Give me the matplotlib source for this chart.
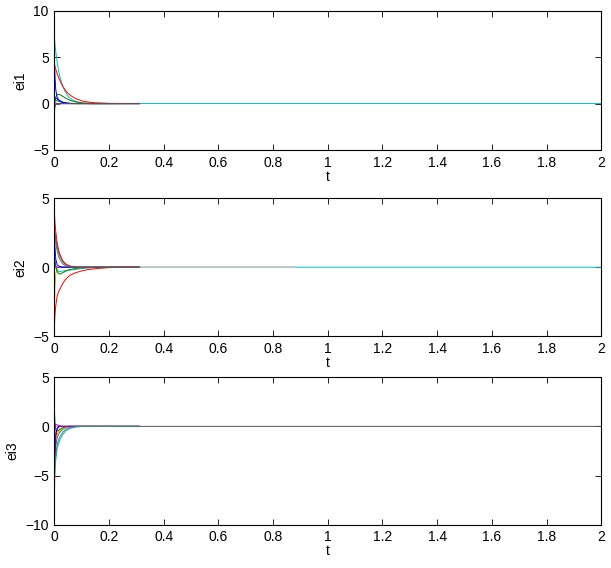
import numpy as np
import matplotlib.pyplot as plt

plt.rcParams['font.family'] = ['Liberation Sans', 'DejaVu Sans']
plt.rcParams['font.size'] = 10

# tiempos de muestreo
t = [0, 0.002, 0.005, 0.01, 0.015, 0.02, 0.03, 0.04, 0.05, 0.06, 0.08, 0.1, 0.12, 0.15, 0.2, 0.25, 0.31]
t_long = t + [2.0]

# colores tipo MATLAB
C = {'b': (0, 0, 1), 'g': (0, 0.5, 0), 'r': (1, 0, 0), 'c': (0, 0.75, 0.75),
     'm': (0.75, 0, 0.75), 'y': (0.75, 0.75, 0), 'k': (0.35, 0.35, 0.35),
     'gr': (0.78, 0.78, 0.78), 'tl': (0.3, 0.5, 0.5)}

# ---- ei1 ----
ei1_c = [7.1, 6.5, 5.6, 4.5, 3.6, 2.9, 1.9, 1.25, 0.8, 0.5, 0.2, 0.05, -0.02, -0.05, -0.03, 0, 0, 0]
ei1_r = [4.2, 4.0, 3.7, 3.25, 2.85, 2.5, 1.9, 1.45, 1.1, 0.85, 0.5, 0.3, 0.18, 0.08, 0.02, 0, 0]
ei1_b = [5.0, 3.0, 1.5, 0.7, 0.45, 0.3, 0.15, 0.08, 0.04, 0.02, 0, 0, 0, 0, 0, 0, 0]
ei1_g = [0.1, 0.4, 0.7, 0.95, 1.0, 0.95, 0.8, 0.6, 0.45, 0.32, 0.17, 0.08, 0.04, 0.01, 0, 0, 0]
ei1_b2 = [0, 0.3, 0.6, 0.5, 0.4, 0.3, 0.15, 0.08, 0.03, 0, 0, 0, 0, 0, 0, 0, 0]
ei1_g2 = [0.3, 0.35, 0.35, 0.3, 0.25, 0.2, 0.12, 0.06, 0.03, 0, 0, 0, 0, 0, 0, 0, 0]
ei1_k = [-1.0, -0.4, -0.1, 0, 0, 0, 0, 0, 0, 0, 0, 0, 0, 0, 0, 0, 0]
ei1_m = [0.2, 0.1, 0.05, 0, 0, 0, 0, 0, 0, 0, 0, 0, 0, 0, 0, 0, 0]
ei1_y = [-0.4, -0.2, 0, 0, 0, 0, 0, 0, 0, 0, 0, 0, 0, 0, 0, 0, 0]
ei1_gr = [-0.3, -0.1, 0, 0, 0, 0, 0, 0, 0, 0, 0, 0, 0, 0, 0, 0, 0]

# ---- ei2 ----
ei2_c = [0.8, 0.5, 0.1, -0.2, -0.3, -0.3, -0.28, -0.25, -0.22, -0.2, -0.15, -0.1, -0.06, -0.02, 0, 0, 0, 0]
ei2_rp = [4.0, 3.3, 2.6, 1.8, 1.3, 0.95, 0.5, 0.27, 0.15, 0.08, 0.03, 0.01, 0, 0, 0, 0, 0]
ei2_rn = [-4.3, -3.5, -2.8, -2.1, -1.8, -1.6, -1.2, -0.9, -0.7, -0.55, -0.38, -0.27, -0.18, -0.1, -0.03, 0, 0]
ei2_k = [2.8, 2.5, 2.1, 1.5, 1.1, 0.8, 0.4, 0.2, 0.1, 0.05, 0, 0, 0, 0, 0, 0, 0]
ei2_tl = [2.5, 2.2, 1.8, 1.2, 0.8, 0.55, 0.25, 0.1, 0.05, 0.02, 0, 0, 0, 0, 0, 0, 0]
ei2_b = [3.0, 1.5, 0.6, 0.2, 0.1, 0.05, 0, 0, 0, 0, 0, 0, 0, 0, 0, 0, 0]
ei2_g = [0.5, 0.3, 0, -0.3, -0.45, -0.5, -0.4, -0.3, -0.2, -0.15, -0.08, -0.04, -0.02, 0, 0, 0, 0]
ei2_y = [-3.5, -1.5, -0.5, -0.1, 0, 0, 0, 0, 0, 0, 0, 0, 0, 0, 0, 0, 0]
ei2_m = [1.0, 0.4, 0.1, 0, 0, 0, 0, 0, 0, 0, 0, 0, 0, 0, 0, 0, 0]
ei2_gr_t = [0, 0.31, 0.88]
ei2_gr = [0.04, 0.04, 0.04]

# ---- ei3 ----
ei3_k = [-4.0, -3.0, -2.0, -1.2, -0.8, -0.6, -0.3, -0.15, -0.08, -0.04, 0, 0, 0, 0, 0, 0, 0, 0]
ei3_r = [-7.5, -3.5, -1.2, -0.3, -0.1, 0, 0, 0, 0, 0, 0, 0, 0, 0, 0, 0, 0]
ei3_b = [-5.0, -2.5, -0.8, -0.2, 0, 0, 0, 0, 0, 0, 0, 0, 0, 0, 0, 0, 0]
ei3_m = [-4.5, 0.0, 0.2, 0.15, 0.1, 0.05, 0, 0, 0, 0, 0, 0, 0, 0, 0, 0, 0]
ei3_g = [1.6, 0.5, -0.3, -0.5, -0.4, -0.3, -0.15, -0.05, 0, 0, 0, 0, 0, 0, 0, 0, 0]
ei3_y = [-0.2, -0.6, -0.9, -0.8, -0.6, -0.45, -0.25, -0.12, -0.05, 0, 0, 0, 0, 0, 0, 0, 0]
ei3_c = [-5.5, -4.5, -3.4, -2.3, -1.8, -1.4, -0.85, -0.5, -0.3, -0.18, -0.06, -0.02, 0, 0, 0, 0, 0]
ei3_tl = [-5.0, -4.0, -3.0, -1.9, -1.4, -1.1, -0.6, -0.35, -0.2, -0.11, -0.03, 0, 0, 0, 0, 0, 0]
ei3_gr = [0, 0, 0, 0, 0, 0, 0, 0, 0.03, 0.05, 0.06, 0.06, 0.05, 0.04, 0.02, 0, 0]

paneles = [
    ('ei1', (-5, 10), [-5, 0, 5, 10], [
        (t_long, ei1_c, 'c'), (t, ei1_gr, 'gr'), (t, ei1_y, 'y'), (t, ei1_m, 'm'),
        (t, ei1_g2, 'g'), (t, ei1_b2, 'b'), (t, ei1_g, 'g'), (t, ei1_b, 'b'),
        (t, ei1_r, 'r'), (t, ei1_k, 'k')]),
    ('ei2', (-5, 5), [-5, 0, 5], [
        (t_long, ei2_c, 'c'), (ei2_gr_t, ei2_gr, 'gr'), (t, ei2_y, 'y'), (t, ei2_m, 'm'),
        (t, ei2_g, 'g'), (t, ei2_b, 'b'), (t, ei2_rp, 'r'), (t, ei2_rn, 'r'),
        (t, ei2_tl, 'tl'), (t, ei2_k, 'k')]),
    ('ei3', (-10, 5), [-10, -5, 0, 5], [
        (t_long, ei3_k, 'k'), (t, ei3_gr, 'gr'), (t, ei3_y, 'y'), (t, ei3_g, 'g'),
        (t, ei3_r, 'r'), (t, ei3_b, 'b'), (t, ei3_m, 'm'), (t, ei3_c, 'c'),
        (t, ei3_tl, 'tl')]),
]

# posiciones de los ejes [izq, abajo, ancho, alto] en fraccion de figura
pos = [[0.089, 0.736, 0.895, 0.245],
       [0.089, 0.408, 0.895, 0.243],
       [0.089, 0.076, 0.895, 0.260]]

fig = plt.figure(figsize=(6.11, 5.68), dpi=100)
for (nombre, ylim, yt, curvas), p in zip(paneles, pos):
    ax = fig.add_axes(p)
    for tx, yy, col in curvas:
        lw = 1.2 if col == 'gr' else 0.7
        ax.plot(tx, yy, color=C[col], lw=lw)
    ax.set_xlim(0, 2)
    ax.set_ylim(*ylim)
    ax.set_xticks(np.round(np.arange(0, 2.01, 0.2), 1))
    ax.set_xticklabels(['%g' % v for v in np.round(np.arange(0, 2.01, 0.2), 1)])
    ax.set_yticks(yt)
    ax.tick_params(direction='in', top=True, right=True, length=4, width=0.6, pad=4)
    for s in ax.spines.values():
        s.set_linewidth(0.8)
    ax.set_xlabel('t', labelpad=0)
    ax.set_ylabel(nombre, labelpad=4)

plt.savefig('out.png', dpi=100)
